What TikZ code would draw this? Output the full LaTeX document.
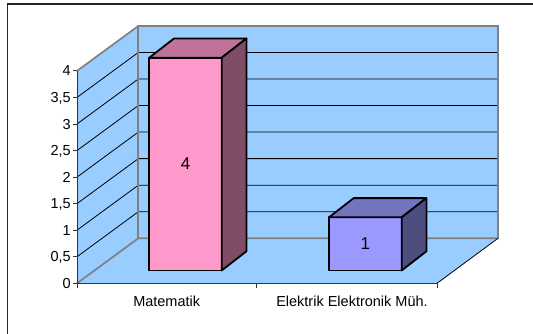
\documentclass[tikz,border=0pt]{standalone}
\usepackage{fontspec}
\setmainfont{Liberation Sans}
\definecolor{wallblue}{HTML}{99CCFF}
\definecolor{pinkfront}{HTML}{FF99CC}
\definecolor{pinktop}{HTML}{C0739A}
\definecolor{pinkside}{HTML}{804D66}
\definecolor{bluefront}{HTML}{9999FF}
\definecolor{bluetop}{HTML}{7373BF}
\definecolor{blueside}{HTML}{4D4D80}

\begin{document}
\begin{tikzpicture}[x=1pt,y=-1pt,
  edge/.style={draw=gray,line width=1.7pt,line cap=round},
  gridline/.style={draw=black,line width=0.8pt},
  barline/.style={draw=black,line width=1.8pt,line join=round},
  axislbl/.style={font=\fontsize{14.5}{16}\selectfont,inner sep=1pt}]
  \useasboundingbox (0,0) rectangle (533,334);
  \draw[line width=1.3pt,black!85] (7.3,340) -- (7.3,4) -- (540,4);

  % walls and floor
  \fill[wallblue] (138.3,26) rectangle (498,238.3);
  \fill[wallblue] (77,70.9) -- (138.3,26) -- (138.3,238.3) -- (77,283.3) -- cycle;
  \fill[wallblue] (77,283.3) -- (138.3,238.3) -- (498,238.3) -- (437,283.3) -- cycle;

  \foreach \i in {1,...,7}
    \draw[gridline] (77,283.3-26.55*\i) -- (138.3,238.3-26.55*\i) -- (498,238.3-26.55*\i);

  \draw[edge] (77,283.3) -- (138.3,238.3) -- (498,238.3) -- (498,26) -- (138.3,26) -- (77,70.9);
  \draw[edge] (138.3,26) -- (138.3,238.3);
  \draw[black,line width=0.8pt] (437,283.3) -- (498,238.3);
  \draw[black!80,line width=0.9pt] (77,70.9) -- (77,283.3) -- (437,283.3);

  % ticks and labels
  \foreach \i/\t in {0/0,1/{0,5},2/1,3/{1,5},4/2,5/{2,5},6/3,7/{3,5},8/4} {
    \draw[black!80,line width=0.8pt] (73,283.3-26.55*\i) -- (77,283.3-26.55*\i);
    \node[axislbl,anchor=east,text depth=0pt] (ylbl\i) at (72,283.3-26.55*\i) {\t};
  }
  \foreach \x in {77,256.7,437}
    \draw[black!80,line width=0.8pt] (\x,283.3) -- (\x,288);
  \node[axislbl] (cat1) at (166.7,301.7) {Matematik};
  \node[axislbl] (cat2) at (352,301.7) {Elektrik Elektronik Müh.};

  % bars
  \filldraw[barline,fill=pinkfront] (149.3,57.7) rectangle (221.7,270.5);
  \filldraw[barline,fill=pinktop] (149.3,57.7) -- (174,38.5) -- (246.4,38.5) -- (221.7,57.7) -- cycle;
  \filldraw[barline,fill=pinkside] (221.7,57.7) -- (246.4,38.5) -- (246.4,251.3) -- (221.7,270.5) -- cycle;
  \node[font=\fontsize{17}{19}\selectfont] (val1) at (185.5,164) {4};

  \filldraw[barline,fill=bluefront] (329,217.3) rectangle (401.7,270.5);
  \filldraw[barline,fill=bluetop] (329,217.3) -- (353.7,198.1) -- (426.4,198.1) -- (401.7,217.3) -- cycle;
  \filldraw[barline,fill=blueside] (401.7,217.3) -- (426.4,198.1) -- (426.4,251.3) -- (401.7,270.5) -- cycle;
  \node[font=\fontsize{17}{19}\selectfont] (val2) at (365.4,244) {1};
\end{tikzpicture}
\end{document}
